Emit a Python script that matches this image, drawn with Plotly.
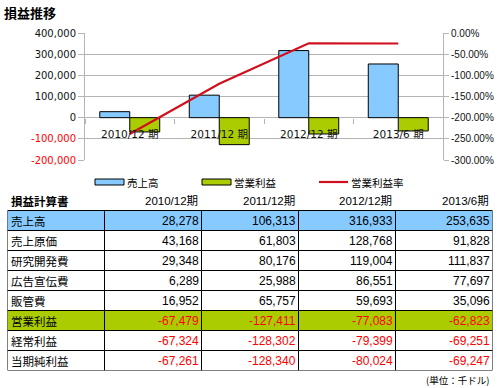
import plotly.graph_objects as go

# ---------------- data ----------------
categories = ['2010/12 期', '2011/12 期', '2012/12 期', '2013/6 期']
periods = ['2010/12期', '2011/12期', '2012/12期', '2013/6期']
sales = [28278, 106313, 316933, 253635]
cost_of_sales = [43168, 61803, 128768, 91828]
rnd = [29348, 80176, 119004, 111837]
advertising = [6289, 25988, 86551, 77697]
sga = [16952, 65757, 59693, 35096]
operating_income = [-67479, -127411, -77083, -62823]
ordinary_income = [-67324, -128302, -79399, -69251]
net_income = [-67261, -128340, -80024, -69247]
operating_margin = [-238.6, -119.8, -24.3, -24.8]

row_names = ['売上高', '売上原価', '研究開発費', '広告宣伝費', '販管費', '営業利益', '経常利益', '当期純利益']
row_values = [sales, cost_of_sales, rnd, advertising, sga, operating_income, ordinary_income, net_income]

left_ticks = [400000, 300000, 200000, 100000, 0, -100000, -200000]
right_ticks = [0, -50, -100, -150, -200, -250, -300]

# ---------------- styles ----------------
W, H = 500, 388
BLUE = '#87CAFF'
GREEN = '#AACC00'
RED_LINE = '#D0101E'
NEG_RED = '#FF0000'
GRID = '#B4B4B4'
CJK = 'Noto Sans CJK JP'
NUMFONT = 'Liberation Sans, ' + CJK


def px(x):
    return x / W


def py(y):
    return 1 - y / H


fig = go.Figure()

fig.add_trace(go.Bar(x=categories, y=sales, name='売上高',
                     marker=dict(color=BLUE, line=dict(color='black', width=1))))
fig.add_trace(go.Bar(x=categories, y=operating_income, name='営業利益',
                     marker=dict(color=GREEN, line=dict(color='black', width=1))))
fig.add_trace(go.Scatter(x=categories, y=operating_margin, name='営業利益率', mode='lines',
                         line=dict(color=RED_LINE, width=2.2), yaxis='y2'))

left_text = [(f'<span style="color:{NEG_RED}">{v:,}</span>' if v < 0 else f'{v:,}') for v in left_ticks]
right_text = [f'{v:.2f}%' for v in right_ticks]

ncols = len(periods) + 1
nrows = len(row_names)

fig.update_layout(
    width=W, height=H,
    margin=dict(l=0, r=0, t=0, b=0, autoexpand=False),
    paper_bgcolor='white', plot_bgcolor='white',
    showlegend=False,
    barmode='group', bargap=0.33, bargroupgap=0,
    xaxis=dict(domain=[px(85), px(443)], anchor='free', position=py(118),
               showgrid=False, showline=False, zeroline=False,
               ticks='outside', tickson='boundaries', ticklen=5, tickcolor=GRID,
               ticklabelstandoff=8,
               tickfont=dict(family='DejaVu Sans, ' + CJK, size=10.5, color='#111'),
               range=[-0.5, 3.5], fixedrange=True),
    yaxis=dict(domain=[py(160), py(33)], range=[-200000, 400000],
               tickvals=left_ticks, ticktext=left_text,
               showgrid=True, gridcolor=GRID, gridwidth=1, zeroline=False,
               showline=True, linecolor=GRID, linewidth=1,
               ticks='outside', ticklen=6, tickcolor=GRID,
               tickfont=dict(family='DejaVu Sans', size=10, color='#111')),
    yaxis2=dict(overlaying='y', side='right', range=[-300, 0],
                tickvals=right_ticks, ticktext=right_text,
                showgrid=False, zeroline=False,
                showline=True, linecolor=GRID, linewidth=1,
                ticks='outside', ticklen=5, tickcolor=GRID,
                tickfont=dict(family='Liberation Sans', size=10, color='#111')),
    # axes used only to lay out the table (column / row units)
    xaxis3=dict(domain=[px(7.5), px(492.5)], range=[0, ncols], anchor='y3',
                visible=False, fixedrange=True),
    yaxis3=dict(domain=[py(370.5), py(190.5)], range=[nrows + 1, 0], anchor='x3',
                visible=False, fixedrange=True),
)

# ---------------- table ----------------
def fmt(v):
    return f'{v:,}'

header_cells = ['<b>損益計算書</b>'] + periods
for c, txt in enumerate(header_cells):
    if c == 0:
        fig.add_annotation(text=txt, xref='x3', yref='y3', x=c, y=0.5, xanchor='left', yanchor='middle',
                           xshift=1, showarrow=False, font=dict(family=CJK, size=11.5, color='black'))
    else:
        fig.add_annotation(text=txt, xref='x3', yref='y3', x=c + 1, y=0.5, xanchor='right', yanchor='middle',
                           xshift=-2, showarrow=False, font=dict(family=NUMFONT, size=11.5, color='black'))

for r, (name, vals) in enumerate(zip(row_names, row_values)):
    fill = BLUE if name == '売上高' else (GREEN if name == '営業利益' else 'white')
    y0 = r + 1
    for c in range(ncols):
        fig.add_shape(type='rect', xref='x3', yref='y3', x0=c, x1=c + 1, y0=y0, y1=y0 + 1,
                      fillcolor=fill, line=dict(color='black', width=1))
    fig.add_annotation(text=name, xref='x3', yref='y3', x=0, y=y0 + 0.5, xanchor='left', yanchor='middle',
                       xshift=1, showarrow=False, font=dict(family=CJK, size=11.5, color='black'))
    for i, v in enumerate(vals):
        fig.add_annotation(text=fmt(v), xref='x3', yref='y3', x=i + 2, y=y0 + 0.5,
                           xanchor='right', yanchor='middle', xshift=-1, showarrow=False,
                           font=dict(family=NUMFONT, size=12, color=NEG_RED if v < 0 else 'black'))

# title
fig.add_annotation(text='<b>損益推移</b>', xref='paper', yref='paper', x=px(2), y=py(12),
                   xanchor='left', yanchor='middle', showarrow=False,
                   font=dict(family=CJK, size=13, color='black'))

# legend (drawn manually)
legend_items = [('bar', BLUE, '売上高', 95), ('bar', GREEN, '営業利益', 202), ('line', RED_LINE, '営業利益率', 319)]
for kind, col, label, x0 in legend_items:
    if kind == 'bar':
        fig.add_shape(type='rect', xref='paper', yref='paper', x0=px(x0), x1=px(x0 + 29),
                      y0=py(185), y1=py(179), fillcolor=col, line=dict(color='black', width=1))
    else:
        fig.add_shape(type='line', xref='paper', yref='paper', x0=px(x0), x1=px(x0 + 29),
                      y0=py(182), y1=py(182), line=dict(color=col, width=2.2))
    fig.add_annotation(text=label, xref='paper', yref='paper', x=px(x0 + 30), y=py(182),
                       xanchor='left', yanchor='middle', showarrow=False,
                       font=dict(family=CJK, size=10.5, color='black'))

# unit note
fig.add_annotation(text='(単位：千ドル)', xref='paper', yref='paper', x=px(491), y=py(380),
                   xanchor='right', yanchor='middle', showarrow=False,
                   font=dict(family=CJK, size=9.5, color='black'))

fig.write_html('out.html', config={'displayModeBar': False},
               post_script="document.body.style.margin='0px';")
